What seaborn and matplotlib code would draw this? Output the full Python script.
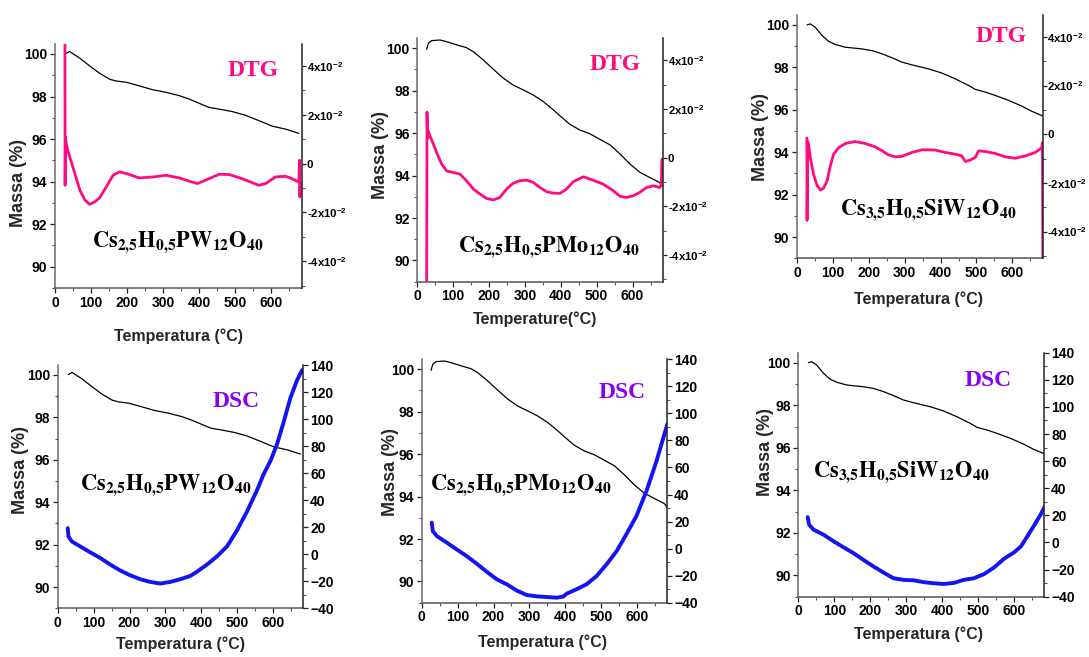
import numpy as np
import matplotlib
matplotlib.use("Agg")
import matplotlib.pyplot as plt
import matplotlib.font_manager as fm
from matplotlib.ticker import MultipleLocator, FixedLocator, FixedFormatter
import seaborn as sns

# ---------------- data ----------------
# TGA mass (%) curves
tga_pw_T = [30, 40, 69, 96, 124, 152, 170, 198, 234, 271, 308, 345, 372, 400, 427, 455,
            492, 528, 565, 602, 639, 676]
tga_pw_m = [100.02, 100.12, 99.8, 99.44, 99.09, 98.81, 98.73, 98.67, 98.5, 98.32, 98.2,
            98.04, 97.88, 97.68, 97.49, 97.41, 97.29, 97.12, 96.87, 96.61, 96.47, 96.27]

tga_pmo_T = [26, 31, 40, 63, 82, 110, 137, 156, 184, 212, 240, 267, 295, 323, 351, 379,
             398, 425, 453, 481, 509, 537, 565, 593, 620, 648, 676, 683]
tga_pmo_m = [99.95, 100.24, 100.36, 100.39, 100.31, 100.16, 100.03, 99.84, 99.45, 99.01,
             98.59, 98.27, 98.04, 97.8, 97.49, 97.1, 96.81, 96.42, 96.15, 95.97, 95.71,
             95.45, 95.02, 94.54, 94.16, 93.91, 93.67, 93.5]

tga_siw_T = [28, 37, 51, 70, 88, 107, 135, 181, 209, 237, 265, 292, 320, 367, 404, 441,
             478, 497, 524, 552, 589, 627, 654, 685]
tga_siw_m = [100.0, 100.05, 99.89, 99.5, 99.23, 99.08, 98.95, 98.87, 98.79, 98.64, 98.45,
             98.25, 98.12, 97.93, 97.73, 97.46, 97.15, 96.96, 96.84, 96.68, 96.45, 96.17,
             95.93, 95.71]

# DTG curves
dtg_pw_T = [27.5, 28, 29, 31, 35, 41, 55, 69, 83, 96, 110, 124, 142, 161, 179, 198, 234,
            271, 308, 345, 372, 395, 427, 455, 483, 519, 565, 584, 611, 639, 657, 671,
            676, 678, 679, 680]
dtg_pw_v = [0.055, -0.0089, 0.011, 0.0085, 0.0055, 0.0027, -0.0041, -0.0109, -0.015,
            -0.0167, -0.0157, -0.014, -0.0096, -0.0048, -0.0034, -0.0041, -0.0059, -0.0055,
            -0.0048, -0.0059, -0.0072, -0.0082, -0.0062, -0.0044, -0.0045, -0.0062,
            -0.0089, -0.0082, -0.0055, -0.0052, -0.0062, -0.0072, -0.0075, 0.0014,
            -0.0137, -0.0075]

dtg_pmo_T = [26, 27, 29, 31, 35, 45, 54, 68, 82, 100, 119, 137, 156, 175, 193, 212, 230,
             249, 267, 286, 305, 323, 342, 360, 379, 398, 416, 435, 463, 490, 518, 546,
             565, 583, 602, 620, 639, 658, 676, 680, 682]
dtg_pmo_v = [-0.06, 0.0187, 0.008, 0.0109, 0.0089, 0.0055, 0.002, -0.0027, -0.0055,
             -0.0061, -0.0068, -0.0095, -0.0129, -0.015, -0.0168, -0.0174, -0.0164,
             -0.0129, -0.0106, -0.0095, -0.0093, -0.0102, -0.0123, -0.014, -0.0146,
             -0.0147, -0.0129, -0.0099, -0.0079, -0.0093, -0.0109, -0.0136, -0.0159,
             -0.0164, -0.0157, -0.0143, -0.0123, -0.0116, -0.0123, -0.011, -0.0007]

dtg_siw_T = [27.5, 28, 30, 32, 37, 46, 56, 65, 74, 84, 93, 102, 116, 135, 162, 190, 218,
             237, 255, 274, 292, 320, 348, 385, 413, 441, 459, 469, 483, 497, 506, 524,
             552, 580, 608, 636, 664, 682, 684, 685]
dtg_siw_v = [-0.0015, -0.0354, -0.003, -0.0041, -0.0095, -0.0164, -0.0211, -0.0229,
             -0.0222, -0.0191, -0.0129, -0.0082, -0.0055, -0.0038, -0.003, -0.0038,
             -0.0052, -0.0068, -0.0085, -0.0093, -0.0091, -0.0075, -0.0064, -0.0065,
             -0.0075, -0.0082, -0.0089, -0.0112, -0.0106, -0.0095, -0.0068, -0.0071,
             -0.0079, -0.0093, -0.0099, -0.0089, -0.0075, -0.0055, -0.0034, -0.06]

# DSC curves
dsc_pw_T = [28, 30, 39, 62, 90, 118, 146, 174, 202, 230, 258, 286, 313, 341, 369, 388,
            416, 444, 472, 500, 527, 555, 574, 593, 611, 630, 648, 667, 681]
dsc_pw_v = [19.3, 13.2, 9.5, 5.9, 1.5, -2.7, -7.6, -12, -15.6, -18.5, -20.5, -21.7, -20.5,
            -18.5, -16.1, -12.9, -7.6, -1.5, 5.9, 18, 31.5, 47.3, 59.5, 69.3, 81.5, 98.5,
            115.6, 129, 136.3]

dsc_pmo_T = [28, 31, 42, 70, 97, 125, 153, 181, 209, 237, 264, 292, 320, 348, 376, 394,
             404, 431, 459, 487, 515, 543, 570, 598, 626, 654, 673, 684]
dsc_pmo_v = [19.2, 13, 9.3, 4.4, -0.5, -5.5, -11.1, -17.1, -22.7, -26.4, -30.9, -34.3,
             -35.3, -35.8, -36.3, -35.5, -33.3, -30.1, -26.4, -20.3, -11.6, -1.8, 10.6,
             24.1, 42.6, 64.8, 82, 91.9]

dsc_siw_T = [26, 30, 42, 70, 98, 126, 153, 181, 209, 237, 265, 293, 321, 349, 377, 405,
             433, 460, 488, 516, 544, 572, 600, 619, 637, 656, 674, 686]
dsc_siw_v = [18.7, 13.2, 9.5, 5.8, 0.9, -3.6, -7.8, -12.8, -17.7, -22.2, -26.4, -27.6,
             -27.9, -29.3, -30.1, -30.6, -29.8, -27.6, -26.4, -23.4, -18.5, -12, -7.3,
             -2.9, 4.6, 12.7, 20.7, 26.9]

formulas = [r"$\mathbf{Cs_{2{,}5}H_{0{,}5}PW_{12}O_{40}}$",
            r"$\mathbf{Cs_{2{,}5}H_{0{,}5}PMo_{12}O_{40}}$",
            r"$\mathbf{Cs_{3{,}5}H_{0{,}5}SiW_{12}O_{40}}$"]
dtg_ticks = [-0.04, -0.02, 0.0, 0.02, 0.04]
dtg_labels = [r"-4x10$^{-2}$", r"-2x10$^{-2}$", "0",
              r"2x10$^{-2}$", r"4x10$^{-2}$"]
xlabels_top = ["Temperatura (°C)", "Temperature(°C)", "Temperatura (°C)"]

# ---------------- style ----------------
sns.set_theme(style="ticks")
names = {f.name for f in fm.fontManager.ttflist}
sans = "Liberation Sans Narrow" if "Liberation Sans Narrow" in names else "Liberation Sans"
plt.rcParams["font.family"] = [sans, "DejaVu Sans"]
plt.rcParams["font.weight"] = "bold"
plt.rcParams["mathtext.fontset"] = "custom"
plt.rcParams["mathtext.rm"] = sans + ":bold"
plt.rcParams["mathtext.bf"] = sans + ":bold"
plt.rcParams["mathtext.default"] = "regular"

PINK = "#FF0A80"
BLUE = "#1414F0"
PURPLE = "#8A00F5"

fig = plt.figure(figsize=(10.89, 6.57), dpi=100)
W, H = 1089.0, 657.0

# axes boxes in pixels: left, right, top, bottom
boxes = [(55, 301.7, 44, 288), (417.3, 662.7, 38.3, 281.7), (797, 1042.5, 15, 258.3),
         (57.7, 303.3, 365, 608.3), (421.7, 667.3, 359.3, 602.7), (798.3, 1044.3, 352.7, 596.7)]
ylab_pos = [(-0.112, 0.432), (-0.115, 0.52), (-0.114, 0.497),
            (-0.117, 0.568), (-0.092, 0.538), (-0.098, 0.594)]
xlab_pos = [(0.5, -0.164), (0.48, -0.121), (0.495, -0.135),
            (0.502, -0.115), (0.492, -0.131), (0.49, -0.121)]
tag_pos = [(0.805, 0.893), (0.806, 0.894), (0.83, 0.911),
           (0.726, 0.849), (0.818, 0.864), (0.771, 0.888)]
form_pos = [(0.149, 0.169), (0.167, 0.123), (0.175, 0.178),
            (0.091, 0.486), (0.034, 0.463), (0.061, 0.492)]

tga_sets = [(tga_pw_T, tga_pw_m), (tga_pmo_T, tga_pmo_m), (tga_siw_T, tga_siw_m)]
dtg_sets = [(dtg_pw_T, dtg_pw_v), (dtg_pmo_T, dtg_pmo_v), (dtg_siw_T, dtg_siw_v)]
dsc_sets = [(dsc_pw_T, dsc_pw_v), (dsc_pmo_T, dsc_pmo_v), (dsc_siw_T, dsc_siw_v)]

for i, (l, r, t, b) in enumerate(boxes):
    ax = fig.add_axes([l / W, (H - b) / H, (r - l) / W, (b - t) / H])
    ax2 = ax.twinx()
    k = i % 3
    top_row = i < 3
    Tm, m = tga_sets[k]
    sns.lineplot(x=Tm, y=m, ax=ax, color="black", lw=0.9, sort=False, estimator=None)
    if top_row:
        Tv, v = dtg_sets[k]
        sns.lineplot(x=Tv, y=v, ax=ax2, color=PINK, lw=2.0, sort=False, estimator=None)
        ax2.set_ylim(-0.051, 0.049)
        ax2.yaxis.set_major_locator(FixedLocator(dtg_ticks))
        ax2.yaxis.set_major_formatter(FixedFormatter(dtg_labels))
        ax2.yaxis.set_minor_locator(MultipleLocator(0.01))
        tag, tcol = "DTG", PINK
        rsize, rpad, rlen = 8.2, 0.5, 3.0
    else:
        Tv, v = dsc_sets[k]
        sns.lineplot(x=Tv, y=v, ax=ax2, color=BLUE, lw=2.8, sort=False, estimator=None)
        ax2.set_ylim(-40, 140)
        ax2.yaxis.set_major_locator(MultipleLocator(20))
        ax2.yaxis.set_minor_locator(MultipleLocator(10))
        tag, tcol = "DSC", PURPLE
        rsize, rpad, rlen = 10, 1.5, 3.5

    ax.set_xlim(0, 684)
    ax.set_ylim(89.0, 100.47)
    ax.xaxis.set_major_locator(MultipleLocator(100))
    ax.xaxis.set_minor_locator(MultipleLocator(50))
    ax.yaxis.set_major_locator(MultipleLocator(2))
    ax.yaxis.set_minor_locator(MultipleLocator(1))

    for a in (ax, ax2):
        a.spines["top"].set_visible(False)
        a.tick_params(which="major", length=3.5, width=0.9, labelsize=10, pad=2,
                      colors="#222222", labelcolor="black")
        a.tick_params(which="minor", length=2, width=0.8, colors="#555555")
    ax2.tick_params(axis="y", which="major", labelsize=rsize, pad=rpad, length=rlen)
    for a in (ax, ax2):
        for lab in a.get_xticklabels() + a.get_yticklabels():
            lab.set_fontweight("bold")
    ax.spines["right"].set_visible(False)
    ax2.spines["left"].set_visible(False)
    ax2.spines["bottom"].set_visible(False)
    ax.spines["left"].set_color("#6a6a6a")
    ax.spines["bottom"].set_color("#555555")
    ax2.spines["right"].set_color("#222222")
    for s in ("left", "bottom"):
        ax.spines[s].set_linewidth(1.1)
    ax2.spines["right"].set_linewidth(1.1)
    ax2.set_ylabel("")

    ax.set_ylabel("Massa (%)", fontsize=13, fontweight="bold")
    ax.yaxis.set_label_coords(*ylab_pos[i])
    xl = xlabels_top[k] if top_row else "Temperatura (°C)"
    ax.set_xlabel(xl, fontsize=11.5, fontweight="bold")
    ax.xaxis.set_label_coords(*xlab_pos[i])

    ax.text(tag_pos[i][0], tag_pos[i][1], tag, transform=ax.transAxes, color=tcol,
            family="Liberation Serif", fontweight="bold", fontsize=17,
            ha="center", va="center")
    ax2.text(form_pos[i][0], form_pos[i][1], formulas[k], transform=ax.transAxes,
             math_fontfamily="stix", fontsize=16, ha="left", va="baseline", color="black")

fig.savefig("out.png", dpi=100)
